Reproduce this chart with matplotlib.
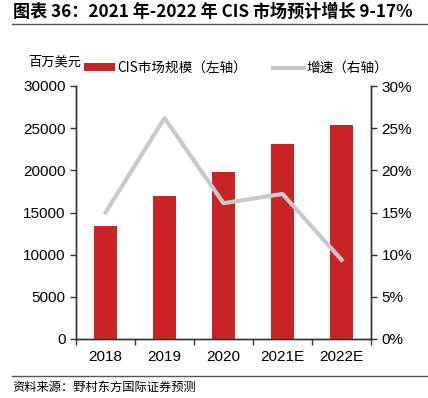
import matplotlib
matplotlib.use("Agg")
import matplotlib.pyplot as plt
import numpy as np
from matplotlib.lines import Line2D
from matplotlib.patches import Patch

categories = ["2018", "2019", "2020", "2021E", "2022E"]
market_size = [13400, 16950, 19800, 23100, 25350]
growth = [15.0, 26.2, 16.1, 17.2, 9.4]

plt.rcParams['font.family'] = ['Liberation Sans', 'Noto Sans CJK SC', 'DejaVu Sans']
cjk = ['Noto Sans CJK SC', 'DejaVu Sans']

fig = plt.figure(figsize=(4.28, 3.98), dpi=100)
ax = fig.add_axes([76/428, 1-339/398, (371-76)/428, (339-86)/398])
ax2 = ax.twinx()

x = np.arange(len(categories))
ax.bar(x, market_size, width=0.4, color='#C82423', zorder=2)
ax2.plot(x, growth, color='#C8C8C8', lw=3, zorder=3)

ax.set_xlim(-0.5, 4.5)
ax.set_ylim(0, 30000)
ax.set_yticks(np.arange(0, 30001, 5000))
ax2.set_ylim(0, 30)
ax2.set_yticks(np.arange(0, 31, 5))
ax2.set_yticklabels([f"{v}%" for v in range(0, 31, 5)])

ax.set_xticks(x)
ax.set_xticklabels(categories)
ax.set_xticks(np.arange(-0.5, 5, 1), minor=True)
ax.tick_params(axis='x', which='major', length=0, labelsize=11, pad=8, colors='#000000')
ax.tick_params(axis='x', which='minor', length=4, width=1, direction='out', color='#333333')
ax.tick_params(axis='y', length=4, width=1, labelsize=11, color='#333333')
ax2.tick_params(axis='y', length=4, width=1, labelsize=11, color='#333333')

for a in (ax, ax2):
    a.spines['top'].set_visible(False)
    for s in ('left', 'right', 'bottom'):
        a.spines[s].set_color('#333333')
        a.spines[s].set_linewidth(1)

# Title
fig.text(13/428, 1-12/398, "图表 36：2021 年-2022 年 CIS 市场预计增长 9-17%", fontsize=12.3,
         fontweight='bold', family=['Noto Sans CJK SC', 'DejaVu Sans'], va='center', ha='left')
fig.add_artist(Line2D([12/428, 1.0], [1-24/398, 1-24/398], color='#555555', lw=1))

# Unit label
fig.text(28/428, 1-62/398, "百万美元", fontsize=9.5, family=cjk, va='center', ha='left')

# Legend
handles = [Patch(facecolor='#C82423', edgecolor='none'),
           Line2D([0], [0], color='#C8C8C8', lw=3)]
leg = fig.legend(handles, ["CIS市场规模（左轴）", "增速（右轴）"], loc='center',
                 bbox_to_anchor=(236/428, 1-68/398), ncol=2, frameon=False,
                 prop={'family': cjk, 'size': 9.8}, handlelength=2.3, handleheight=0.5,
                 columnspacing=1.9, handletextpad=0.15)

# Footer
fig.add_artist(Line2D([12/428, 1.0], [1-376/398, 1-376/398], color='#555555', lw=1))
fig.text(12/428, 1-387/398, "资料来源：野村东方国际证券预测", fontsize=8.8, family=cjk,
         va='center', ha='left')

fig.savefig("out.png", dpi=100)
